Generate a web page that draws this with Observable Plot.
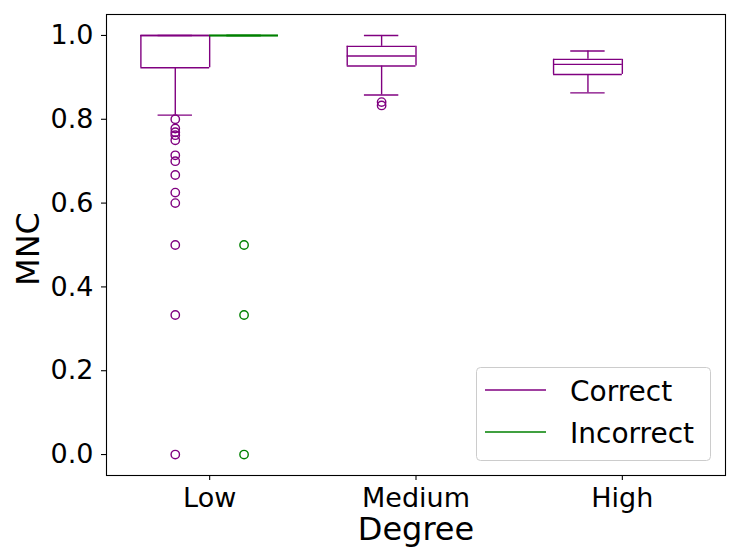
<!DOCTYPE html>
<html>
<head>
<meta charset="utf-8">
<script src="https://cdn.jsdelivr.net/npm/d3@7"></script>
<script src="https://cdn.jsdelivr.net/npm/@observablehq/plot@0.6"></script>
<style>
  html, body { margin: 0; padding: 0; background: white; }
  #wrap { position: relative; width: 738px; height: 557px; font-family: "DejaVu Sans", sans-serif; }
  #legend { position: absolute; left: 476px; top: 367px; }
</style>
</head>
<body>
<div id="wrap"></div>
<script>
// ---- data ----
const categories = ["Low", "Medium", "High"];
const groups = ["Correct", "Incorrect"];
const colors = ["purple", "green"];
const yTicks = [0.0, 0.2, 0.4, 0.6, 0.8, 1.0];
const xLabel = "Degree";
const yLabel = "MNC";

// five-number summaries per category: [lower whisker, Q1, median, Q3, upper whisker]
const correctStats = [
  [0.81, 0.923, 1.0, 1.0, 1.0],
  [0.858, 0.927, 0.951, 0.974, 1.0],
  [0.863, 0.907, 0.931, 0.943, 0.963]
];
const incorrectStats = [
  [1.0, 1.0, 1.0, 1.0, 1.0],
  null,
  null
];
const correctOutliers = [
  [0.8, 0.778, 0.769, 0.762, 0.75, 0.714, 0.7, 0.667, 0.625, 0.6, 0.5, 0.333, 0.0],
  [0.841, 0.833],
  []
];
const incorrectOutliers = [
  [0.5, 0.333, 0.0],
  [],
  []
];

// ---- build tables ----
const stats = [correctStats, incorrectStats];
const outs = [correctOutliers, incorrectOutliers];
const half = 1 / 6;
const boxes = [];
const points = [];
groups.forEach((g, gi) => {
  const off = gi === 0 ? -half : half;
  categories.forEach((c, ci) => {
    const x = ci + 1 + off;
    const s = stats[gi][ci];
    if (s) boxes.push({group: g, x, lo: s[0], q1: s[1], med: s[2], q3: s[3], hi: s[4]});
    outs[gi][ci].forEach(v => points.push({group: g, x, y: v}));
  });
});

const lw = 1.4;
const chart = Plot.plot({
  width: 738,
  height: 557,
  marginLeft: 106,
  marginRight: 13,
  marginTop: 14,
  marginBottom: 82,
  style: {fontFamily: "DejaVu Sans", background: "white", color: "black", overflow: "visible"},
  x: {domain: [0.5, 3.5], axis: null},
  y: {domain: [-0.05, 1.05], axis: null},
  color: {domain: groups, range: colors},
  marks: [
    Plot.axisY({ticks: yTicks, tickFormat: d3.format(".1f"), tickSize: 5, tickPadding: 8, fontSize: 27, strokeWidth: 1.1, label: null}),
    Plot.axisX({ticks: [1, 2, 3], tickFormat: i => categories[i - 1], tickSize: 5, tickPadding: 7, fontSize: 27, strokeWidth: 1.1, label: null}),
    // whiskers
    Plot.ruleX(boxes, {x: "x", y1: "lo", y2: "q1", stroke: "group", strokeWidth: lw}),
    Plot.ruleX(boxes, {x: "x", y1: "q3", y2: "hi", stroke: "group", strokeWidth: lw}),
    // caps
    Plot.ruleY(boxes, {y: "lo", x1: d => d.x - half / 2, x2: d => d.x + half / 2, stroke: "group", strokeWidth: lw}),
    Plot.ruleY(boxes, {y: "hi", x1: d => d.x - half / 2, x2: d => d.x + half / 2, stroke: "group", strokeWidth: lw}),
    // box edges
    Plot.ruleX(boxes, {x: d => d.x - half, y1: "q1", y2: "q3", stroke: "group", strokeWidth: lw}),
    Plot.ruleX(boxes, {x: d => d.x + half, y1: "q1", y2: "q3", stroke: "group", strokeWidth: lw}),
    Plot.ruleY(boxes, {y: "q1", x1: d => d.x - half, x2: d => d.x + half, stroke: "group", strokeWidth: lw}),
    Plot.ruleY(boxes, {y: "q3", x1: d => d.x - half, x2: d => d.x + half, stroke: "group", strokeWidth: lw}),
    // medians
    Plot.ruleY(boxes, {y: "med", x1: d => d.x - half, x2: d => d.x + half, stroke: "group", strokeWidth: lw}),
    // outliers
    Plot.dot(points, {x: "x", y: "y", r: 4.2, stroke: "group", fill: "none", strokeWidth: 1.4}),
    // axis titles
    Plot.text([yLabel], {text: d => d, frameAnchor: "left", rotate: -90, dx: -78, dy: 4, fontSize: 32, lineAnchor: "middle", textAnchor: "middle"}),
    Plot.text([xLabel], {text: d => d, frameAnchor: "bottom", dy: 54, fontSize: 32, lineAnchor: "middle", textAnchor: "middle"}),
    Plot.frame({stroke: "black", strokeWidth: 1.1})
  ]
});

const wrap = document.getElementById("wrap");
wrap.appendChild(chart);

// ---- legend (inside plot area, lower right) ----
const lg = d3.select(wrap).append("svg")
  .attr("id", "legend")
  .attr("width", 236).attr("height", 95);
lg.append("rect")
  .attr("x", 0.5).attr("y", 0.5).attr("width", 234).attr("height", 93)
  .attr("rx", 4).attr("ry", 4)
  .attr("fill", "rgba(255,255,255,0.8)").attr("stroke", "#cccccc").attr("stroke-width", 1);
groups.forEach((g, i) => {
  const cy = 23 + i * 42;
  lg.append("line")
    .attr("x1", 9).attr("x2", 70).attr("y1", cy).attr("y2", cy)
    .attr("stroke", colors[i]).attr("stroke-width", 1.4);
  lg.append("text")
    .attr("x", 94).attr("y", cy + 10.5)
    .attr("font-family", "DejaVu Sans").attr("font-size", 28)
    .attr("fill", "black")
    .text(g);
});
</script>
</body>
</html>
